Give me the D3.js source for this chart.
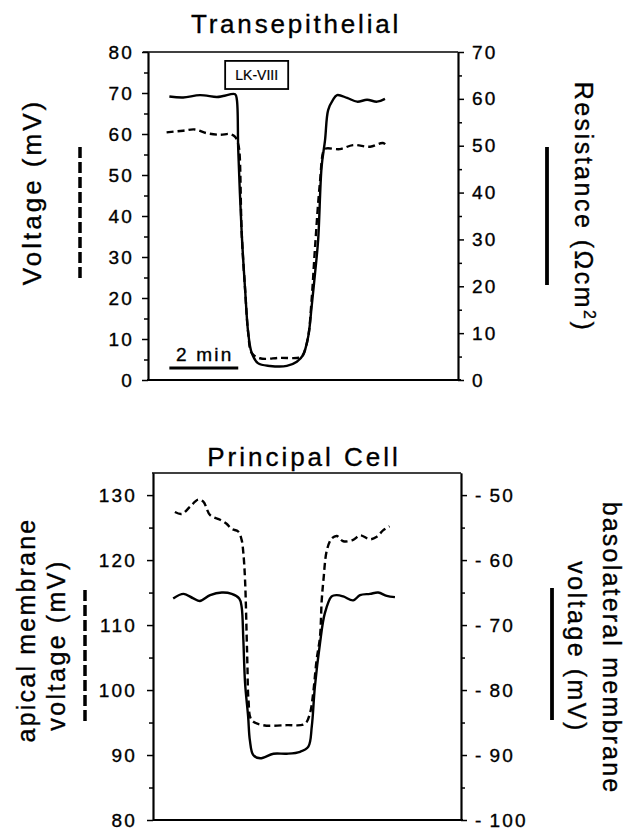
<!DOCTYPE html>
<html>
<head>
<meta charset="utf-8">
<script src="https://cdn.jsdelivr.net/npm/d3@7"></script>
<style>
  body { margin: 0; background: #fff; }
  text { font-family: "Liberation Sans", Arial, Helvetica, sans-serif; fill: #000; stroke: #000; stroke-width: 0.35px; }
</style>
</head>
<body>
<svg id="fig" width="630" height="832"></svg>
<script>
// time in minutes, same span for both panels
const timeDomain = [0, 9];

// --- Transepithelial panel ---
const resTime  = [0.62, 1.02, 1.51, 2.0, 2.18, 2.53, 2.58, 2.62, 2.72, 2.82, 2.91, 3.01, 3.19, 3.54, 4.03,
                  4.32, 4.50, 4.65, 4.75, 4.85, 4.94, 5.04, 5.14, 5.23, 5.37, 5.49, 5.78, 6.07, 6.36, 6.65, 6.88];
const resValue = [60.5, 60.3, 60.8, 60.4, 60.6, 61.0, 59.8, 49.1, 31.4, 19.2, 10.0, 5.8, 3.6, 3.0, 3.0,
                  3.9, 5.3, 9.2, 15.6, 22.8, 29.9, 45.5, 51.2, 57.6, 59.8, 60.8, 60.2, 59.4, 59.8, 59.4, 60.0];
const teVoltTime  = [0.54, 1.02, 1.36, 1.70, 2.09, 2.38, 2.53, 2.61, 2.65, 2.72, 2.82, 2.91, 3.01, 3.25,
                     3.83, 4.41, 4.50, 4.65, 4.75, 4.85, 4.99, 5.11, 5.19, 5.57, 5.95, 6.45, 6.82, 6.97];
const teVoltValue = [60.4, 60.8, 61.1, 60.2, 59.8, 60.0, 59.3, 57.8, 56.1, 35.9, 22.0, 11.5, 6.6, 5.3,
                     5.4, 5.5, 6.1, 10.6, 19.5, 32.4, 48.0, 56.1, 56.5, 56.3, 57.3, 56.9, 57.8, 56.9];
const teVoltTicks = [0, 10, 20, 30, 40, 50, 60, 70, 80];
const resTicks    = [0, 10, 20, 30, 40, 50, 60, 70];

// --- Principal cell panel ---
const apTime  = [0.64, 0.84, 1.08, 1.32, 1.47, 1.67, 1.96, 2.15, 2.30, 2.49, 2.59, 2.64, 2.69, 2.74, 2.76,
                 2.79, 2.88, 3.21, 3.91, 4.44, 4.59, 4.68, 4.78, 4.88, 4.93, 4.98, 5.08, 5.22, 5.37, 5.56,
                 5.85, 6.05, 6.34, 6.54, 6.73, 6.91];
const apValue = [127.4, 127.1, 128.2, 129.3, 129.0, 126.9, 126.2, 125.6, 124.8, 124.4, 123.1, 121.1, 116.9, 107.7, 103.6,
                 98.5, 95.4, 94.6, 94.6, 94.8, 96.5, 99.5, 104.6, 108.2, 113.8, 116.9, 121.5, 123.3, 123.7, 122.9,
                 123.1, 123.8, 123.2, 123.6, 124.6, 125.2];
const blTime  = [0.59, 0.89, 1.18, 1.37, 1.67, 2.01, 2.30, 2.52, 2.59, 2.64, 2.69, 2.78, 2.83, 2.93, 3.13, 3.52,
                 3.91, 4.30, 4.54, 4.64, 4.73, 4.88, 5.02, 5.22, 5.37, 5.56, 5.85, 6.05, 6.34, 6.58, 6.83, 7.07];
const blValue = [-65.9, -65.2, -65.9, -66.3, -65.4, -65.0, -65.2, -65.9, -67.2, -72.3, -78.9, -84.1, -87.7, -90.0, -90.5, -89.8,
                 -89.8, -89.5, -88.7, -85.6, -79.5, -72.8, -68.2, -65.6, -65.4, -65.6, -66.2, -65.4, -65.2, -65.0, -65.5, -65.7];
const apTicks = [80, 90, 100, 110, 120, 130];
const blTicks = [-100, -90, -80, -70, -60, -50];

const svg = d3.select('#fig');
const TICK_FONT = 19, TICK_LS = 2.2;

function zip(xs, ys) { return xs.map((t, i) => [t, ys[i]]); }

function styleAxis(sel) {
  sel.attr('font-size', null).attr('font-family', null);
  sel.select('.domain').attr('stroke-width', 1.7);
  sel.selectAll('.tick line').attr('stroke-width', 1.5);
  sel.selectAll('.tick text')
    .style('font-size', TICK_FONT + 'px')
    .style('letter-spacing', TICK_LS + 'px')
    .style('font-family', '"Liberation Sans", Arial, sans-serif');
}

function drawAxis(x, scale, side, majors, minors, pad, fmt) {
  const mk = side === 'left' ? d3.axisLeft : d3.axisRight;
  svg.append('g').attr('transform', `translate(${x},0)`)
    .call(mk(scale).tickValues(minors).tickSize(4).tickSizeOuter(0).tickFormat(''))
    .call(styleAxis);
  svg.append('g').attr('transform', `translate(${x},0)`)
    .call(mk(scale).tickValues(majors).tickSize(6).tickSizeOuter(0).tickPadding(pad).tickFormat(fmt || (d => d)))
    .call(styleAxis);
}

function trace(x, y, data, dashed) {
  const line = d3.line().x(d => x(d[0])).y(d => y(d[1])).curve(d3.curveCatmullRom.alpha(0.5));
  svg.append('path').datum(data)
    .attr('d', line)
    .attr('fill', 'none')
    .attr('stroke', '#000')
    .attr('stroke-width', 2.4)
    .attr('stroke-dasharray', dashed ? '7,4' : null);
}

function label(x, y, rot, txt, size, ls) {
  return svg.append('text')
    .attr('transform', `translate(${x},${y}) rotate(${rot})`)
    .attr('text-anchor', 'middle')
    .attr('dy', '0.35em')
    .style('font-size', size + 'px')
    .style('letter-spacing', ls + 'px')
    .text(txt);
}

// ================= Transepithelial =================
const xT  = d3.scaleLinear().domain(timeDomain).range([148, 458]);
const yTV = d3.scaleLinear().domain([0, 80]).range([380, 52]);
const yTR = d3.scaleLinear().domain([0, 70]).range([380, 52]);

svg.append('line').attr('x1', 143).attr('x2', 458).attr('y1', 52).attr('y2', 52)
  .attr('stroke', '#000').attr('stroke-width', 1.7);
svg.append('line').attr('x1', 147).attr('x2', 461).attr('y1', 380).attr('y2', 380)
  .attr('stroke', '#000').attr('stroke-width', 1.9);

drawAxis(148, yTV, 'left', teVoltTicks, d3.range(5, 80, 10), 8);
drawAxis(458, yTR, 'right', resTicks, d3.range(5, 70, 10), 8);

trace(xT, yTV, zip(teVoltTime, teVoltValue), true);
trace(xT, yTR, zip(resTime, resValue), false);

label(296, 24, 0, 'Transepithelial', 26, 2.8);

// drug box
const box = svg.append('g');
box.append('rect')
  .attr('x', xT(2.24)).attr('y', yTR(68.1))
  .attr('width', xT(4.07) - xT(2.24)).attr('height', yTR(62.1) - yTR(68.1))
  .attr('fill', '#fff').attr('stroke', '#000').attr('stroke-width', 1.8);
box.append('text')
  .attr('x', xT(3.155)).attr('y', yTR(65.1)).attr('dy', '0.36em')
  .attr('text-anchor', 'middle').style('font-size', '14px').style('stroke-width', '0.2px')
  .text('LK-VIII');

// 2 min scale bar
svg.append('line')
  .attr('x1', xT(0.62)).attr('x2', xT(2.62))
  .attr('y1', 368).attr('y2', 368)
  .attr('stroke', '#000').attr('stroke-width', 3);
svg.append('text')
  .attr('x', (xT(0.62) + xT(2.62)) / 2 + 1).attr('y', 361)
  .attr('text-anchor', 'middle').style('font-size', '19px')
  .style('letter-spacing', '2.2px')
  .text('2 min');

// side keys
svg.append('line').attr('x1', 80).attr('x2', 80).attr('y1', 147).attr('y2', 282)
  .attr('stroke', '#000').attr('stroke-width', 3.5).attr('stroke-dasharray', '11,4');
svg.append('line').attr('x1', 547).attr('x2', 547).attr('y1', 147).attr('y2', 285)
  .attr('stroke', '#000').attr('stroke-width', 3.8);

label(32, 192, -90, 'Voltage  (mV)', 26, 3);
const rl = svg.append('text')
  .attr('transform', 'translate(584,207) rotate(90)')
  .attr('text-anchor', 'middle').attr('dy', '0.35em')
  .style('font-size', '25px').style('letter-spacing', '2.5px');
rl.append('tspan').text('Resistance  (Ωcm');
rl.append('tspan').style('font-size', '16px').attr('dy', -9).text('2');
rl.append('tspan').attr('dy', 9).text(')');

// ================= Principal Cell =================
const xP  = d3.scaleLinear().domain(timeDomain).range([153, 461]);
const yPA = d3.scaleLinear().domain([80, 133.4]).range([820, 473]);
const yPB = d3.scaleLinear().domain([-100, -46.6]).range([820, 473]);

svg.append('line').attr('x1', 152).attr('x2', 461).attr('y1', 473).attr('y2', 473)
  .attr('stroke', '#000').attr('stroke-width', 1.7);
svg.append('line').attr('x1', 153).attr('x2', 463).attr('y1', 820).attr('y2', 820)
  .attr('stroke', '#000').attr('stroke-width', 1.9);

drawAxis(153, yPA, 'left', apTicks, d3.range(85, 130, 10), 10);
drawAxis(461, yPB, 'right', blTicks, d3.range(-95, -50, 10), 8, d => '-\u2009' + Math.abs(d));

trace(xP, yPA, zip(apTime, apValue), true);
trace(xP, yPB, zip(blTime, blValue), false);

label(304, 457, 0, 'Principal  Cell', 26, 3);

svg.append('line').attr('x1', 85).attr('x2', 85).attr('y1', 590).attr('y2', 722)
  .attr('stroke', '#000').attr('stroke-width', 3.5).attr('stroke-dasharray', '11,4');
svg.append('line').attr('x1', 552).attr('x2', 552).attr('y1', 588).attr('y2', 720)
  .attr('stroke', '#000').attr('stroke-width', 3.8);

label(26, 630, -90, 'apical  membrane', 25, 2.2);
label(56, 645, -90, 'voltage  (mV)', 25, 2.5);
label(612, 648, 90, 'basolateral  membrane', 25, 2.2);
label(577, 647, 90, 'voltage  (mV)', 25, 2.5);
</script>
</body>
</html>
